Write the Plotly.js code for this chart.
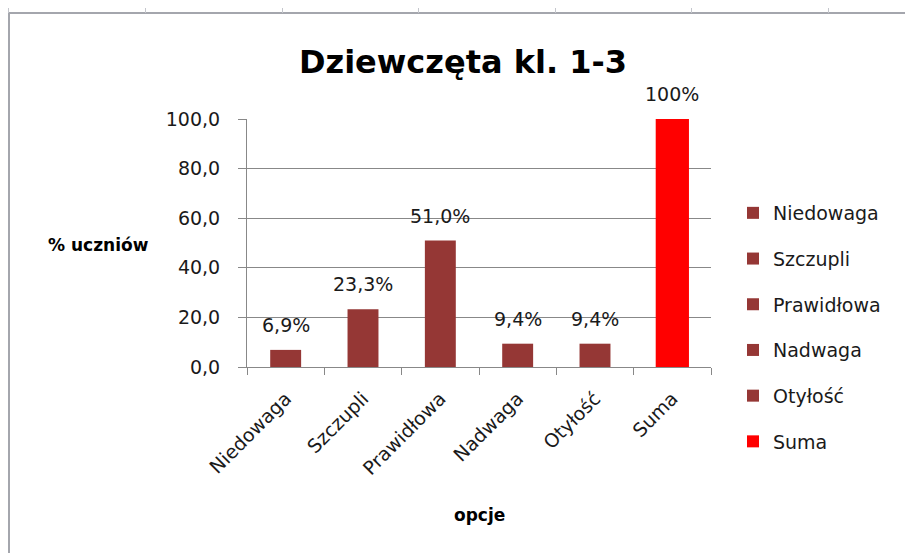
<!DOCTYPE html>
<html>
<head>
<meta charset="utf-8">
<script src="https://cdn.plot.ly/plotly-3.0.1.min.js"></script>
<style>
  html, body { margin: 0; padding: 0; background: #fff; }
  #wrap { position: relative; width: 905px; height: 553px; overflow: hidden; }
  #chart { width: 905px; height: 553px; }
  #frame { position: absolute; left: 8px; top: 12px; right: 0; bottom: 0;
           border-left: 2px solid #a4a6ad; border-top: 2px solid #a4a6ad;
           pointer-events: none; }
  .cell { position: absolute; top: 8px; width: 1px; height: 5px; background: #c4c6cc; }
</style>
</head>
<body>
<div id="wrap">
  <div id="chart"></div>
  <div id="frame"></div>
  <div class="cell" style="left:8px"></div>
  <div class="cell" style="left:145px"></div>
  <div class="cell" style="left:282px"></div>
  <div class="cell" style="left:418px"></div>
  <div class="cell" style="left:555px"></div>
  <div class="cell" style="left:691px"></div>
  <div class="cell" style="left:828px"></div>
</div>
<script>
const categories = ["Niedowaga", "Szczupli", "Prawidłowa", "Nadwaga", "Otyłość", "Suma"];
const values = [6.9, 23.3, 51.0, 9.4, 9.4, 100];
const labelDecimals = [1, 1, 1, 1, 1, 0];
const barColors = ["#953735", "#953735", "#953735", "#953735", "#953735", "#ff0000"];
const yTicks = [0, 20, 40, 60, 80, 100];

const FONT = "'DejaVu Sans', Verdana, sans-serif";
const TXT = "#1a1a1a";

const traces = categories.map((c, i) => ({
  type: "bar",
  name: c,
  x: [c],
  y: [values[i]],
  width: i === categories.length - 1 ? 0.43 : 0.4,
  marker: { color: barColors[i] },
  legendgroup: "g" + i,
  hoverinfo: "x+y"
}));

const labelAnnotations = categories.map((c, i) => ({
  xref: "x", yref: "y",
  x: c, y: values[i],
  text: values[i].toFixed(labelDecimals[i]).replace(".", ",") + "%",
  showarrow: false,
  xanchor: "center", yanchor: "bottom",
  yshift: 12,
  font: { family: FONT, size: 19, color: TXT }
}));

const layout = {
  width: 905,
  height: 553,
  separators: ", ",
  barmode: "overlay",
  paper_bgcolor: "#ffffff",
  plot_bgcolor: "#ffffff",
  margin: { l: 247, r: 194, t: 119, b: 186 },
  font: { family: FONT, color: TXT },
  title: {
    text: "<b>Dziewczęta kl. 1-3</b>",
    font: { family: FONT, size: 32, color: "#000" },
    xref: "container", yref: "container",
    x: 463 / 905, y: 1 - 62 / 553,
    xanchor: "center", yanchor: "middle"
  },
  xaxis: {
    type: "category",
    categoryorder: "array",
    categoryarray: categories,
    tickangle: -45,
    ticks: "outside",
    tickson: "boundaries",
    ticklen: 7,
    tickcolor: "#888888",
    ticklabelstandoff: 12,
    showline: true,
    linecolor: "#888888",
    linewidth: 1,
    showgrid: false,
    tickfont: { family: FONT, size: 19, color: TXT },
    fixedrange: true
  },
  yaxis: {
    range: [0, 100],
    tickvals: yTicks,
    tickformat: ".1f",
    ticks: "outside",
    ticklen: 8,
    tickcolor: "#888888",
    ticklabelstandoff: 14,
    showline: true,
    linecolor: "#888888",
    linewidth: 1,
    showgrid: true,
    gridcolor: "#888888",
    gridwidth: 1,
    zeroline: false,
    tickfont: { family: FONT, size: 19, color: TXT },
    fixedrange: true
  },
  showlegend: true,
  legend: {
    xref: "container",
    yref: "container",
    x: 733 / 905,
    xanchor: "left",
    y: 1 - 194 / 553,
    yanchor: "top",
    tracegroupgap: 18,
    maxheight: 400,
    font: { family: FONT, size: 19, color: TXT },
    bgcolor: "rgba(0,0,0,0)"
  },
  annotations: labelAnnotations.concat([
    {
      text: "<b>% uczniów</b>",
      xref: "paper", yref: "paper",
      x: (98 - 247) / 464, y: (367 - 245) / 248,
      xanchor: "center", yanchor: "middle",
      showarrow: false,
      font: { family: FONT, size: 17, color: "#000" }
    },
    {
      text: "<b>opcje</b>",
      xref: "paper", yref: "paper",
      x: 0.5, y: -(515 - 367) / 248,
      xanchor: "center", yanchor: "middle",
      showarrow: false,
      font: { family: FONT, size: 17, color: "#000" }
    }
  ])
};

Plotly.newPlot("chart", traces, layout, { displayModeBar: false, staticPlot: true });
</script>
</body>
</html>
